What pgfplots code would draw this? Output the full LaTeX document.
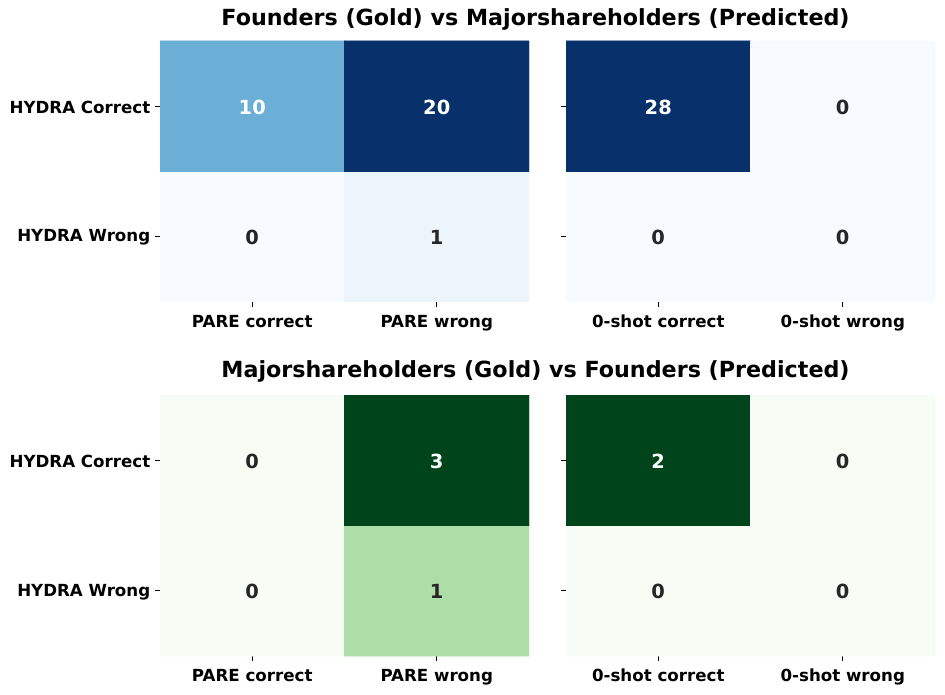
\documentclass[border=0pt]{standalone}
\usepackage{pgfplots}
\pgfplotsset{compat=1.18}
\usepackage{fontspec}
\setmainfont{DejaVu Sans}
\definecolor{darktext}{HTML}{262626}
\pgfplotsset{
  colormap={blues}{rgb255=(247,251,255) rgb255=(222,235,247) rgb255=(198,219,239) rgb255=(158,202,225) rgb255=(107,174,214) rgb255=(66,146,198) rgb255=(33,113,181) rgb255=(8,81,156) rgb255=(8,48,107)},
  colormap={greens}{rgb255=(247,252,245) rgb255=(229,245,224) rgb255=(199,233,192) rgb255=(161,217,155) rgb255=(116,196,118) rgb255=(65,171,93) rgb255=(35,139,69) rgb255=(0,109,44) rgb255=(0,68,27)},
  hm/.style={
    width=265.68pt, height=187.92pt, scale only axis,
    xmin=-0.5, xmax=1.5, ymin=-0.5, ymax=1.5, enlargelimits=false,
    axis line style={draw=none},
    xtick={0,1}, ytick={0,1},
    tick align=outside, major tick length=3.5pt,
    xtick pos=bottom, ytick pos=left,
    tick style={black, line width=0.6pt},
    ticklabel style={font=\bfseries\fontsize{12}{14}\selectfont},
    xticklabel style={yshift=-2.5pt},
    yticklabel style={yshift=-0.7pt},
    point meta min=0,
    anchor=north west,
  },
  lab/.style={only marks, mark=none, point meta=explicit symbolic,
    nodes near coords, nodes near coords align={center},
    nodes near coords style={anchor=center, yshift=-0.7pt, font=\bfseries\fontsize{14}{16}\selectfont, text=#1}},
}
\begin{document}
\begin{tikzpicture}
\path[use as bounding box] (0,0) rectangle (680.4pt,-500.4pt);
\node[font=\bfseries\fontsize{16}{19}\selectfont] at (385.6pt,-13.7pt) {Founders (Gold) vs Majorshareholders (Predicted)};
\node[font=\bfseries\fontsize{16}{19}\selectfont] at (385.6pt,-267.1pt) {Majorshareholders (Gold) vs Founders (Predicted)};
% top-left
\begin{axis}[hm, at={(115.2pt,-29.52pt)}, colormap name=blues, point meta max=20,
  xticklabels={PARE correct, PARE wrong}, yticklabels={HYDRA Wrong, HYDRA Correct}]
\addplot[matrix plot*, mesh/cols=2, point meta=explicit] table[meta=v] {
x y v
0 0 0
1 0 1
0 1 10
1 1 20
};
\addplot[lab=white] table[meta=v] {
x y v
0 1 10
1 1 20
};
\addplot[lab=darktext] table[meta=v] {
x y v
0 0 0
1 0 1
};
\end{axis}
% top-right
\begin{axis}[hm, at={(407.52pt,-29.52pt)}, colormap name=blues, point meta max=28,
  xticklabels={0-shot correct, 0-shot wrong}, yticklabels={}]
\addplot[matrix plot*, mesh/cols=2, point meta=explicit] table[meta=v] {
x y v
0 0 0
1 0 0
0 1 28
1 1 0
};
\addplot[lab=white] table[meta=v] {
x y v
0 1 28
};
\addplot[lab=darktext] table[meta=v] {
x y v
0 0 0
1 0 0
1 1 0
};
\end{axis}
% bottom-left
\begin{axis}[hm, at={(115.2pt,-284.4pt)}, colormap name=greens, point meta max=3,
  xticklabels={PARE correct, PARE wrong}, yticklabels={HYDRA Wrong, HYDRA Correct}]
\addplot[matrix plot*, mesh/cols=2, point meta=explicit] table[meta=v] {
x y v
0 0 0
1 0 1
0 1 0
1 1 3
};
\addplot[lab=white] table[meta=v] {
x y v
1 1 3
};
\addplot[lab=darktext] table[meta=v] {
x y v
0 0 0
1 0 1
0 1 0
};
\end{axis}
% bottom-right
\begin{axis}[hm, at={(407.52pt,-284.4pt)}, colormap name=greens, point meta max=2,
  xticklabels={0-shot correct, 0-shot wrong}, yticklabels={}]
\addplot[matrix plot*, mesh/cols=2, point meta=explicit] table[meta=v] {
x y v
0 0 0
1 0 0
0 1 2
1 1 0
};
\addplot[lab=white] table[meta=v] {
x y v
0 1 2
};
\addplot[lab=darktext] table[meta=v] {
x y v
0 0 0
1 0 0
1 1 0
};
\end{axis}
\end{tikzpicture}
\end{document}
